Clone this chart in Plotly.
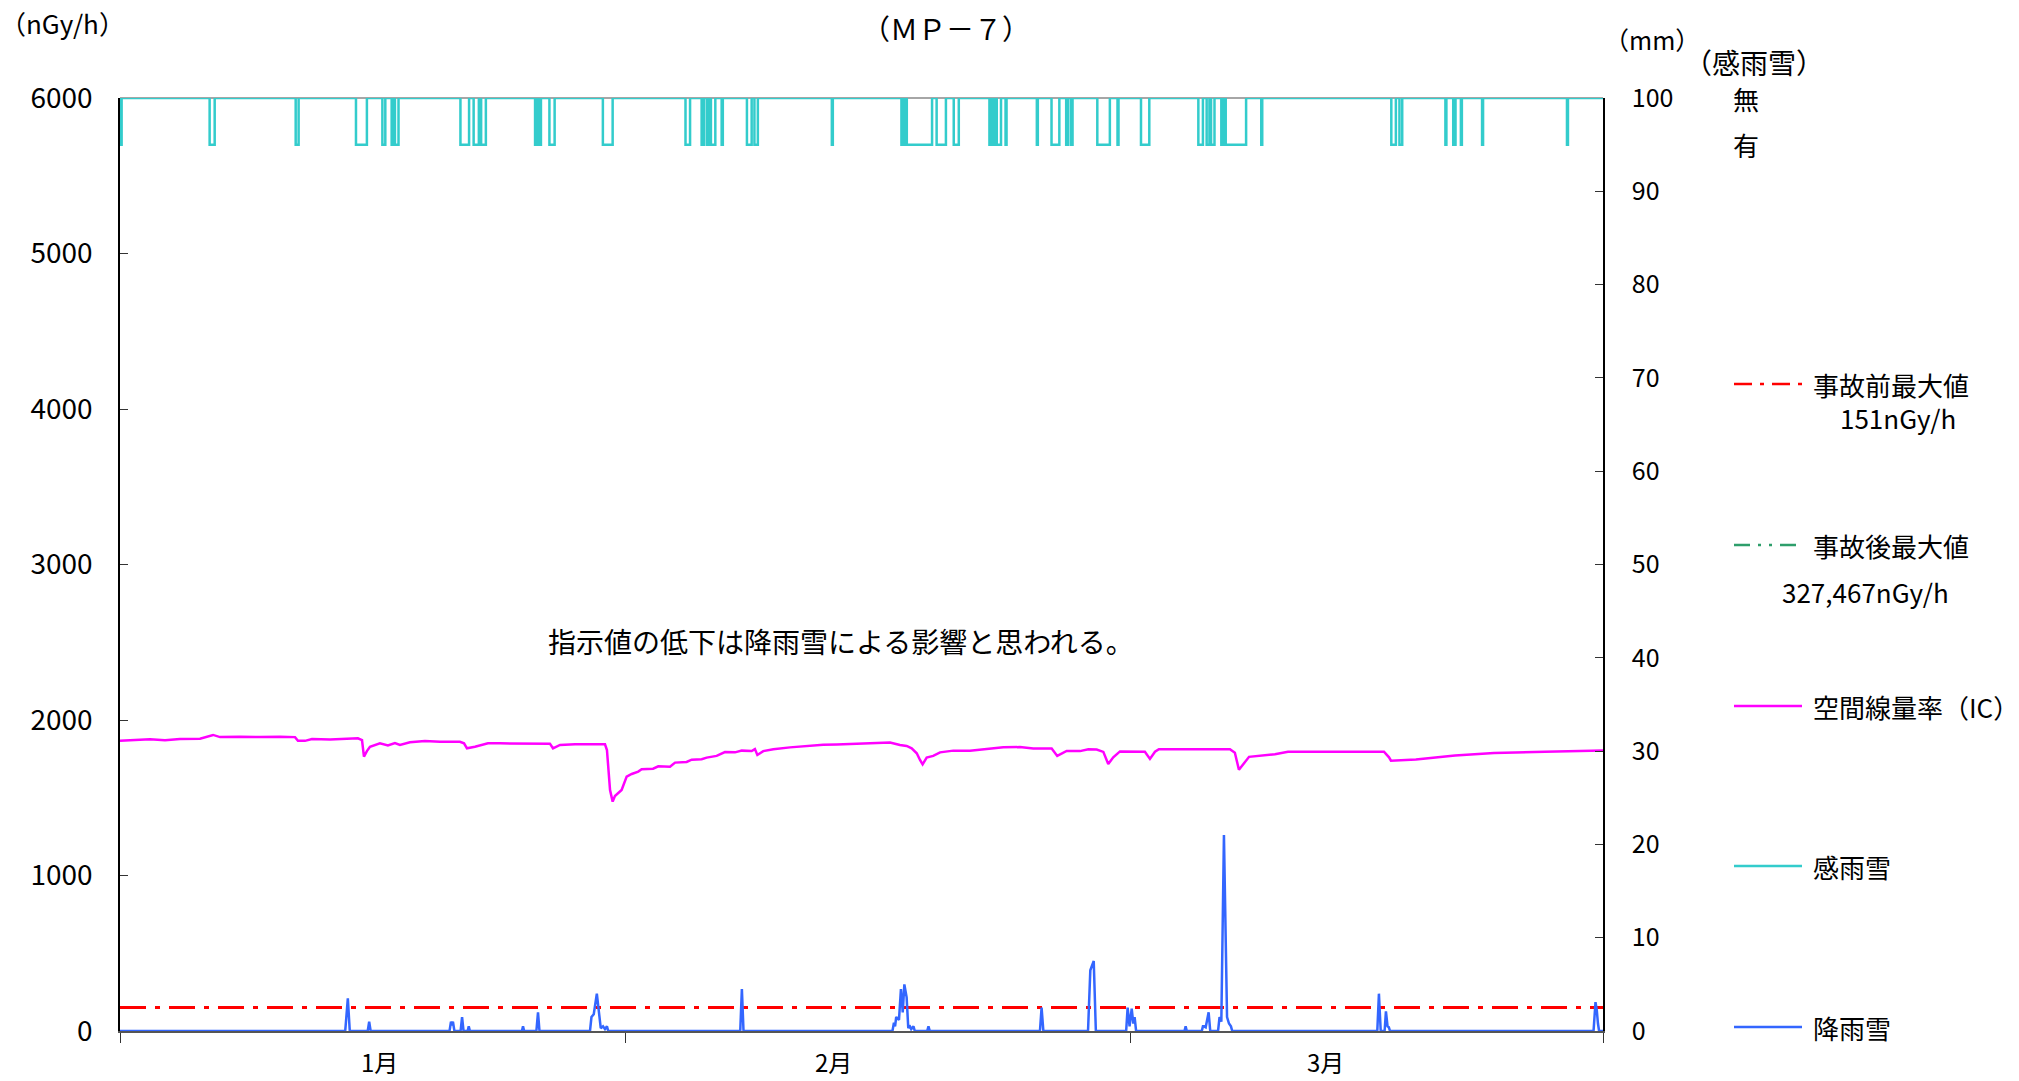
import plotly.graph_objects as go

# ---- data (x in days from 1 Jan, 91-day quarter) ----
# air dose rate, ionisation chamber (nGy/h)
dose_day = [0, 0.92, 1.84, 2.76, 3.68, 4.91, 5.71, 6.14, 7.36, 8.59, 9.82, 10.74, 10.92,
            11.35, 11.78, 12.89, 13.81, 14.60, 14.85, 14.97, 15.15, 15.34, 15.95, 16.44,
            16.87, 17.18, 17.79, 18.71, 19.64, 20.86, 21.11, 21.29, 21.78, 22.58, 23.32,
            26.38, 26.57, 27.00, 27.92, 29.76, 29.88, 30.07, 30.23, 30.37, 30.78, 31.09,
            31.40, 31.80, 32.01, 32.71, 33.03, 33.75, 34.06, 34.77, 35.08, 35.69, 36.00,
            36.61, 37.12, 37.74, 38.15, 38.76, 38.96, 39.11, 39.47, 40.09, 41.11, 42.23,
            43.15, 43.98, 44.99, 46.02, 47.25, 47.86, 48.27, 48.58, 48.89, 49.09, 49.25,
            49.50, 49.90, 50.32, 51.13, 52.16, 53.18, 54.20, 55.22, 56.04, 57.17, 57.51,
            58.09, 58.91, 59.42, 59.93, 60.34, 60.64, 60.95, 61.36, 62.89, 63.20, 63.51,
            63.75, 68.11, 68.41, 68.66, 69.28, 70.87, 71.67, 77.56, 77.87, 77.99, 79.52,
            81.92, 84.31, 87.44, 91.0]
dose_val = [1867, 1872, 1876, 1870, 1878, 1880, 1904, 1890, 1893, 1890, 1893, 1890, 1867,
            1866, 1878, 1875, 1880, 1882, 1870, 1764, 1800, 1828, 1850, 1836,
            1852, 1840, 1857, 1865, 1860, 1860, 1850, 1818, 1828, 1850, 1850,
            1848, 1818, 1840, 1844, 1844, 1807, 1550, 1475, 1511, 1550, 1636,
            1653, 1668, 1683, 1687, 1702, 1700, 1726, 1730, 1745, 1748, 1758,
            1769, 1794, 1792, 1803, 1800, 1813, 1775, 1800, 1812, 1824, 1835,
            1841, 1843, 1846, 1850, 1855, 1839, 1833, 1818, 1786, 1743, 1715,
            1758, 1769, 1792, 1803, 1803, 1812, 1824, 1826, 1816, 1816, 1769,
            1801, 1800, 1812, 1810, 1795, 1717, 1760, 1798, 1796, 1750, 1796,
            1812, 1812, 1790, 1680, 1763, 1780, 1796, 1796, 1760, 1738, 1746,
            1771, 1788, 1796, 1804]

# rain/snow detector: periods (start day, end day) with detection
sense_periods = [(0.0, 0.1), (5.50, 5.81), (10.78, 10.96), (14.48, 15.15), (16.10, 16.28),
                 (16.67, 16.81), (16.87, 17.09), (20.89, 21.42), (21.70, 22.02), (22.16, 22.45),
                 (25.47, 25.58), (25.71, 25.83), (26.35, 26.67), (29.63, 30.23), (34.70, 34.98),
                 (35.69, 35.83), (36.01, 36.14), (36.26, 36.53), (36.92, 36.99), (38.47, 38.76),
                 (38.93, 39.14), (43.68, 43.74), (47.95, 48.05), (48.12, 48.20), (48.28, 49.83),
                 (50.11, 50.68), (51.16, 51.47), (53.35, 53.50), (53.58, 53.70), (53.80, 54.06),
                 (54.34, 54.40), (56.26, 56.32), (57.16, 57.64), (58.06, 58.17), (58.35, 58.45),
                 (59.97, 60.74), (61.21, 61.27), (62.65, 63.16), (66.17, 66.45), (66.68, 66.85),
                 (66.95, 67.16), (67.58, 67.70), (67.85, 69.10), (70.03, 70.09), (78.01, 78.29),
                 (78.51, 78.68), (81.33, 81.39), (81.81, 81.95), (82.28, 82.34), (83.58, 83.64),
                 (88.79, 88.85)]

# precipitation (mm)
rain_day = [0, 13.82, 13.98, 14.10, 15.20, 15.29, 15.38, 20.22, 20.31, 20.37, 20.43, 20.52,
            20.90, 20.99, 21.08, 21.33, 21.40, 21.47, 24.66, 24.73, 24.80, 25.55, 25.65, 25.74,
            28.84, 28.93, 29.07, 29.26, 29.39, 29.50, 29.64, 29.76, 29.88, 29.96,
            38.06, 38.16, 38.26,
            47.40, 47.49, 47.56, 47.63, 47.80, 47.92, 48.03, 48.13, 48.27, 48.37, 48.44, 48.55,
            48.69, 48.77, 49.53, 49.61, 49.69, 56.45, 56.55, 56.66, 59.40, 59.54, 59.75, 59.88,
            61.74, 61.83, 61.95, 62.08, 62.18, 62.26, 62.35, 65.32, 65.39, 65.46,
            66.38, 66.45, 66.52, 66.62, 66.80, 66.90,
            67.38, 67.47, 67.58, 67.74, 67.84, 67.93, 68.05, 68.17, 68.25,
            77.15, 77.25, 77.36, 77.60, 77.68, 77.78, 77.86, 77.93,
            90.42, 90.54, 90.62, 90.69, 90.76, 91.0]
rain_mm = [0, 0, 3.5, 0, 0, 1.0, 0, 0, 1.0, 0.6, 1.0, 0,
           0, 1.5, 0, 0, 0.5, 0, 0, 0.5, 0, 0, 2.0, 0,
           0, 1.5, 1.8, 4.0, 2.0, 0.3, 0.5, 0.2, 0.5, 0,
           0, 4.5, 0,
           0, 0.9, 0.5, 1.5, 1.2, 4.5, 2.0, 5.0, 3.6, 0.3, 0.6, 0.2,
           0.5, 0, 0, 0.5, 0, 0, 2.5, 0, 0, 6.5, 7.5, 0,
           0, 2.5, 0.5, 2.4, 0.8, 1.5, 0, 0, 0.5, 0,
           0, 0.5, 0.5, 0.4, 2.0, 0,
           0, 1.5, 1.0, 21.0, 9.8, 1.5, 0.8, 0.5, 0,
           0, 4.0, 0, 0, 2.1, 0.5, 0.4, 0,
           0, 3.1, 2.2, 0.8, 0, 0]

pre_accident_max = 151  # nGy/h
x_end = 91
axis_ticks = [0, 31, 62, 91]
month_labels = ["1月", "2月", "3月"]
month_label_day = [15.95, 43.8, 74.0]

# ---- build step series for the detector (1 = none, 0 = detected) ----
sense_x, sense_y = [0.0], [1]
for s, e in sense_periods:
    sense_x += [s, e]
    sense_y += [0, 1]
sense_x.append(x_end)
sense_y.append(1)

FONT = "Noto Sans CJK JP"
W, H = 2019, 1081
L, R, T, B = 120, 1603, 98, 1031


def px(x):
    return (x - L) / (R - L)


def py(y):
    return (B - y) / (B - T)


fig = go.Figure()
fig.add_trace(go.Scatter(x=[0, x_end], y=[pre_accident_max] * 2, mode="lines",
                         line=dict(color="#FF0000", width=3, dash="26px,9px,5px,9px"),
                         yaxis="y"))
fig.add_trace(go.Scatter(x=dose_day, y=dose_val, mode="lines",
                         line=dict(color="#FF00FF", width=2.5), yaxis="y"))
fig.add_trace(go.Scatter(x=sense_x, y=sense_y, mode="lines", line_shape="hv",
                         line=dict(color="#33CCCC", width=2.5), yaxis="y3"))
fig.add_trace(go.Scatter(x=rain_day, y=rain_mm, mode="lines",
                         line=dict(color="#3366FF", width=2.5), yaxis="y2"))

fig.update_layout(
    width=W, height=H, showlegend=False,
    paper_bgcolor="white", plot_bgcolor="white",
    margin=dict(l=L, r=W - R, t=T, b=H - B),
    xaxis=dict(range=[0, x_end], tickvals=axis_ticks, ticktext=[""] * 4,
               ticks="outside", ticklen=10, tickcolor="#333", showgrid=False,
               zeroline=False, showline=True, linecolor="#555", linewidth=1.5),
    yaxis=dict(range=[0, 6000], dtick=1000, ticks="inside", ticklen=8, tickcolor="#333",
               showgrid=False, zeroline=False, showline=True, linecolor="black",
               linewidth=1.5, tickfont=dict(family=FONT, size=28, color="black"),
               ticklabelstandoff=20),
    yaxis2=dict(range=[0, 100], dtick=10, overlaying="y", side="right", ticks="inside",
                ticklen=8, tickcolor="#333", showgrid=False, zeroline=False,
                showline=True, linecolor="black", linewidth=1.5,
                tickfont=dict(family=FONT, size=25, color="black"),
                ticklabelstandoff=22),
    yaxis3=dict(range=[-19, 1], overlaying="y", visible=False),
)

# gray frame along the top of the plot area
fig.add_shape(type="line", xref="paper", yref="paper", x0=0, x1=1, y0=1, y1=1,
              line=dict(color="#888", width=1.5), layer="below")


def note(text, x, y, size=24, xref="paper", yref="paper", xanchor="center"):
    fig.add_annotation(text=text, x=x, y=y, xref=xref, yref=yref, showarrow=False,
                       xanchor=xanchor, yanchor="middle",
                       font=dict(family=FONT, size=size, color="black"))


note("（ＭＰ－７）", px(946), py(28), size=28)
note("（nGy/h）", px(63), py(23), size=26)
note("（mm）", px(1652), py(39), size=25)
note("（感雨雪）", px(1754), py(62), size=28)
note("無", px(1746), 1, size=26, yref="y3")
note("有", px(1746), 0, size=26, yref="y3")

for lab, d in zip(month_labels, month_label_day):
    note(lab, d, py(1061), size=24, xref="x")

note("指示値の低下は降雨雪による影響と思われる。", px(841), py(641), size=28)

# legend block
legend_rows = [
    ("事故前最大値", 384, "#FF0000", "18px,8px,4px,8px"),
    ("事故後最大値", 545, "#2E9E6B", "16px,8px,3px,8px,3px,8px"),
    ("空間線量率（IC）", 706, "#FF00FF", "solid"),
    ("感雨雪", 866, "#33CCCC", "solid"),
    ("降雨雪", 1027, "#3366FF", "solid"),
]
for label, yy, col, dash in legend_rows:
    fig.add_shape(type="line", xref="paper", yref="paper", x0=px(1734), x1=px(1802),
                  y0=py(yy), y1=py(yy), line=dict(color=col, width=2.5, dash=dash))
    note(label, px(1811), py(yy), size=26, xanchor="left")

note("151nGy/h", px(1838), py(417), size=26, xanchor="left")
note("327,467nGy/h", px(1780), py(591), size=26, xanchor="left")

fig.write_html("out.html")
